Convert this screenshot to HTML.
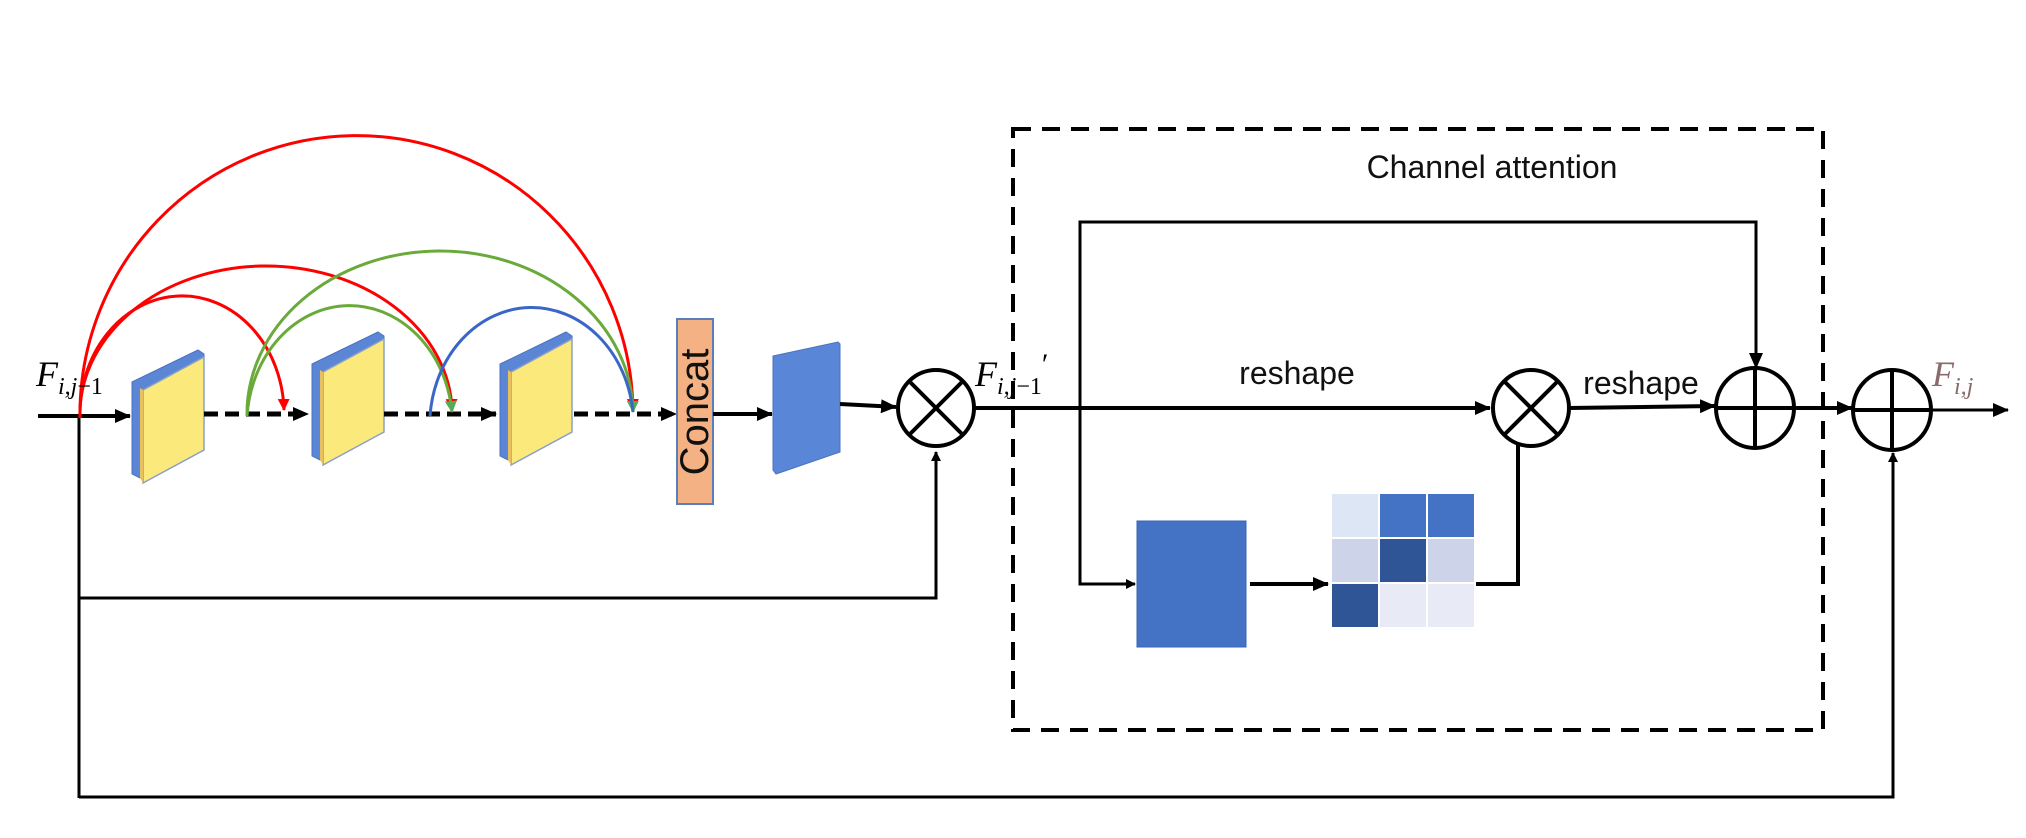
<!DOCTYPE html>
<html><head><meta charset="utf-8"><style>
html,body{margin:0;padding:0;background:#fff;}
svg{display:block;}
text{font-family:"Liberation Sans",sans-serif;}
.m{font-family:"Liberation Serif",serif;font-style:italic;}
</style></head><body>
<svg width="2026" height="838" viewBox="0 0 2026 838" xmlns="http://www.w3.org/2000/svg">
<defs>
<marker id="ak" markerWidth="10" markerHeight="10" refX="9" refY="5" orient="auto" markerUnits="userSpaceOnUse"><path d="M0,0 L10,5 L0,10 z" fill="#000"/></marker>
<marker id="ab" markerWidth="16" markerHeight="14" refX="15" refY="7" orient="auto" markerUnits="userSpaceOnUse"><path d="M0,0 L16,7 L0,14 z" fill="#000"/></marker>
<marker id="ar" markerWidth="12" markerHeight="12" refX="11" refY="6" orient="auto" markerUnits="userSpaceOnUse"><path d="M0,0 L12,6 L0,12 z" fill="#f00"/></marker>
<marker id="ag" markerWidth="12" markerHeight="12" refX="11" refY="6" orient="auto" markerUnits="userSpaceOnUse"><path d="M0,0 L12,6 L0,12 z" fill="#5a5"/></marker>
<g id="blk">
<polygon points="0,32 66,0 72,4 72,94 8,128 0,124" fill="#5b86d6" stroke="#4a72c0" stroke-width="1"/>
<polygon points="11,40 72,7 72,100 11,133" fill="#fbe97c" stroke="#8aa0c8" stroke-width="1.5"/>
<polygon points="8,38 11,40 11,133 8,128" fill="#e8c060"/>
</g>
</defs>

<line x1="38" y1="416" x2="130" y2="416" stroke="#000" stroke-width="4" marker-end="url(#ab)"/>
<line x1="79" y1="416" x2="79" y2="798" stroke="#000" stroke-width="3"/>
<polyline points="79,598 936,598 936,452" fill="none" stroke="#000" stroke-width="3" marker-end="url(#ak)"/>
<polyline points="79,797 1893,797 1893,453" fill="none" stroke="#000" stroke-width="3" marker-end="url(#ak)"/>

<use href="#blk" x="132" y="350"/>
<use href="#blk" x="312" y="332"/>
<use href="#blk" x="500" y="332"/>

<line x1="204" y1="414" x2="308" y2="414" stroke="#000" stroke-width="5" stroke-dasharray="14,7" marker-end="url(#ab)"/>
<line x1="384" y1="414" x2="496" y2="414" stroke="#000" stroke-width="5" stroke-dasharray="14,7" marker-end="url(#ab)"/>
<line x1="574" y1="414" x2="676" y2="414" stroke="#000" stroke-width="5" stroke-dasharray="14,7" marker-end="url(#ab)"/>

<g fill="none" stroke-width="3">
<path d="M80,418 A102,118 0 0 1 284,410" stroke="#f00" marker-end="url(#ar)"/>
<path d="M80,418 A186,148 0 0 1 452,410" stroke="#f00" marker-end="url(#ar)"/>
<path d="M80,418 A276,278 0 0 1 633,410" stroke="#f00" marker-end="url(#ar)"/>
<path d="M247,416 A103,120 0 0 1 452,412" stroke="#6aaa3a" marker-end="url(#ag)"/>
<path d="M247,416 A193,163 0 0 1 633,412" stroke="#6aaa3a" marker-end="url(#ag)"/>
<path d="M430,416 A102,118 0 0 1 633,412" stroke="#3a66c8"/>
</g>

<rect x="677" y="319" width="36" height="185" fill="#f4b183" stroke="#5a7fb8" stroke-width="2"/>
<text transform="translate(708,412) rotate(-90)" text-anchor="middle" font-size="40" fill="#111">Concat</text>
<line x1="713" y1="414" x2="772" y2="414" stroke="#000" stroke-width="4" marker-end="url(#ab)"/>

<polygon points="773,356 838,342 840,344 840,452 776,474 773,470" fill="#5a86d8" stroke="#4a72c0" stroke-width="1"/>
<line x1="840" y1="404" x2="896" y2="407" stroke="#000" stroke-width="4" marker-end="url(#ab)"/>

<circle cx="936" cy="408" r="38" fill="#fff" stroke="#000" stroke-width="4"/>
<line x1="909" y1="381" x2="963" y2="435" stroke="#000" stroke-width="4"/>
<line x1="963" y1="381" x2="909" y2="435" stroke="#000" stroke-width="4"/>

<text x="36" y="386" class="m" font-size="36">F<tspan font-size="24" dy="8">i,j</tspan><tspan font-size="24" font-style="normal">−1</tspan></text>
<text x="975" y="386" class="m" font-size="36">F<tspan font-size="24" dy="8">i,j</tspan><tspan font-size="24" font-style="normal">−1</tspan><tspan font-size="30" dy="-20" font-style="normal">′</tspan></text>

<rect x="1013" y="129" width="810" height="601" fill="none" stroke="#000" stroke-width="4" stroke-dasharray="18,11"/>
<text x="1492" y="178" text-anchor="middle" font-size="32" fill="#111">Channel attention</text>

<line x1="974" y1="408" x2="1490" y2="408" stroke="#000" stroke-width="4" marker-end="url(#ab)"/>
<text x="1297" y="384" text-anchor="middle" font-size="32" fill="#111">reshape</text>
<polyline points="1080,408 1080,222 1756,222 1756,368" fill="none" stroke="#000" stroke-width="3" marker-end="url(#ab)"/>

<polyline points="1080,408 1080,584 1135,584" fill="none" stroke="#000" stroke-width="3" marker-end="url(#ak)"/>
<rect x="1137" y="521" width="109" height="126" fill="#4472c4" stroke="#3a64b0"/>
<line x1="1250" y1="584" x2="1328" y2="584" stroke="#000" stroke-width="4" marker-end="url(#ab)"/>
<rect x="1332" y="494" width="46" height="43" fill="#dce6f4"/>
<rect x="1380" y="494" width="46" height="43" fill="#4472c4"/>
<rect x="1428" y="494" width="46" height="43" fill="#4472c4"/>
<rect x="1332" y="539" width="46" height="43" fill="#cdd4ea"/>
<rect x="1380" y="539" width="46" height="43" fill="#2f5597"/>
<rect x="1428" y="539" width="46" height="43" fill="#cdd4ea"/>
<rect x="1332" y="584" width="46" height="43" fill="#2f5597"/>
<rect x="1380" y="584" width="46" height="43" fill="#e8ebf5"/>
<rect x="1428" y="584" width="46" height="43" fill="#e8ebf5"/>
<polyline points="1476,584 1518,584 1518,440" fill="none" stroke="#000" stroke-width="4"/>

<circle cx="1531" cy="408" r="38" fill="#fff" stroke="#000" stroke-width="4"/>
<line x1="1504" y1="381" x2="1558" y2="435" stroke="#000" stroke-width="4"/>
<line x1="1558" y1="381" x2="1504" y2="435" stroke="#000" stroke-width="4"/>
<line x1="1569" y1="408" x2="1715" y2="406" stroke="#000" stroke-width="4" marker-end="url(#ab)"/>
<text x="1641" y="394" text-anchor="middle" font-size="32" fill="#111">reshape</text>

<ellipse cx="1755" cy="408" rx="39" ry="40" fill="#fff" stroke="#000" stroke-width="4"/>
<line x1="1716" y1="408" x2="1794" y2="408" stroke="#000" stroke-width="4"/>
<line x1="1755" y1="368" x2="1755" y2="448" stroke="#000" stroke-width="4"/>
<line x1="1794" y1="408" x2="1852" y2="408" stroke="#000" stroke-width="4" marker-end="url(#ab)"/>

<ellipse cx="1892" cy="410" rx="39" ry="40" fill="#fff" stroke="#000" stroke-width="4"/>
<line x1="1853" y1="410" x2="1931" y2="410" stroke="#000" stroke-width="4"/>
<line x1="1892" y1="370" x2="1892" y2="450" stroke="#000" stroke-width="4"/>
<line x1="1931" y1="410" x2="2008" y2="410" stroke="#000" stroke-width="3" marker-end="url(#ab)"/>
<text x="1932" y="386" class="m" font-size="36" fill="#8a6a6a">F<tspan font-size="24" dy="8">i,j</tspan></text>
</svg>
</body></html>
